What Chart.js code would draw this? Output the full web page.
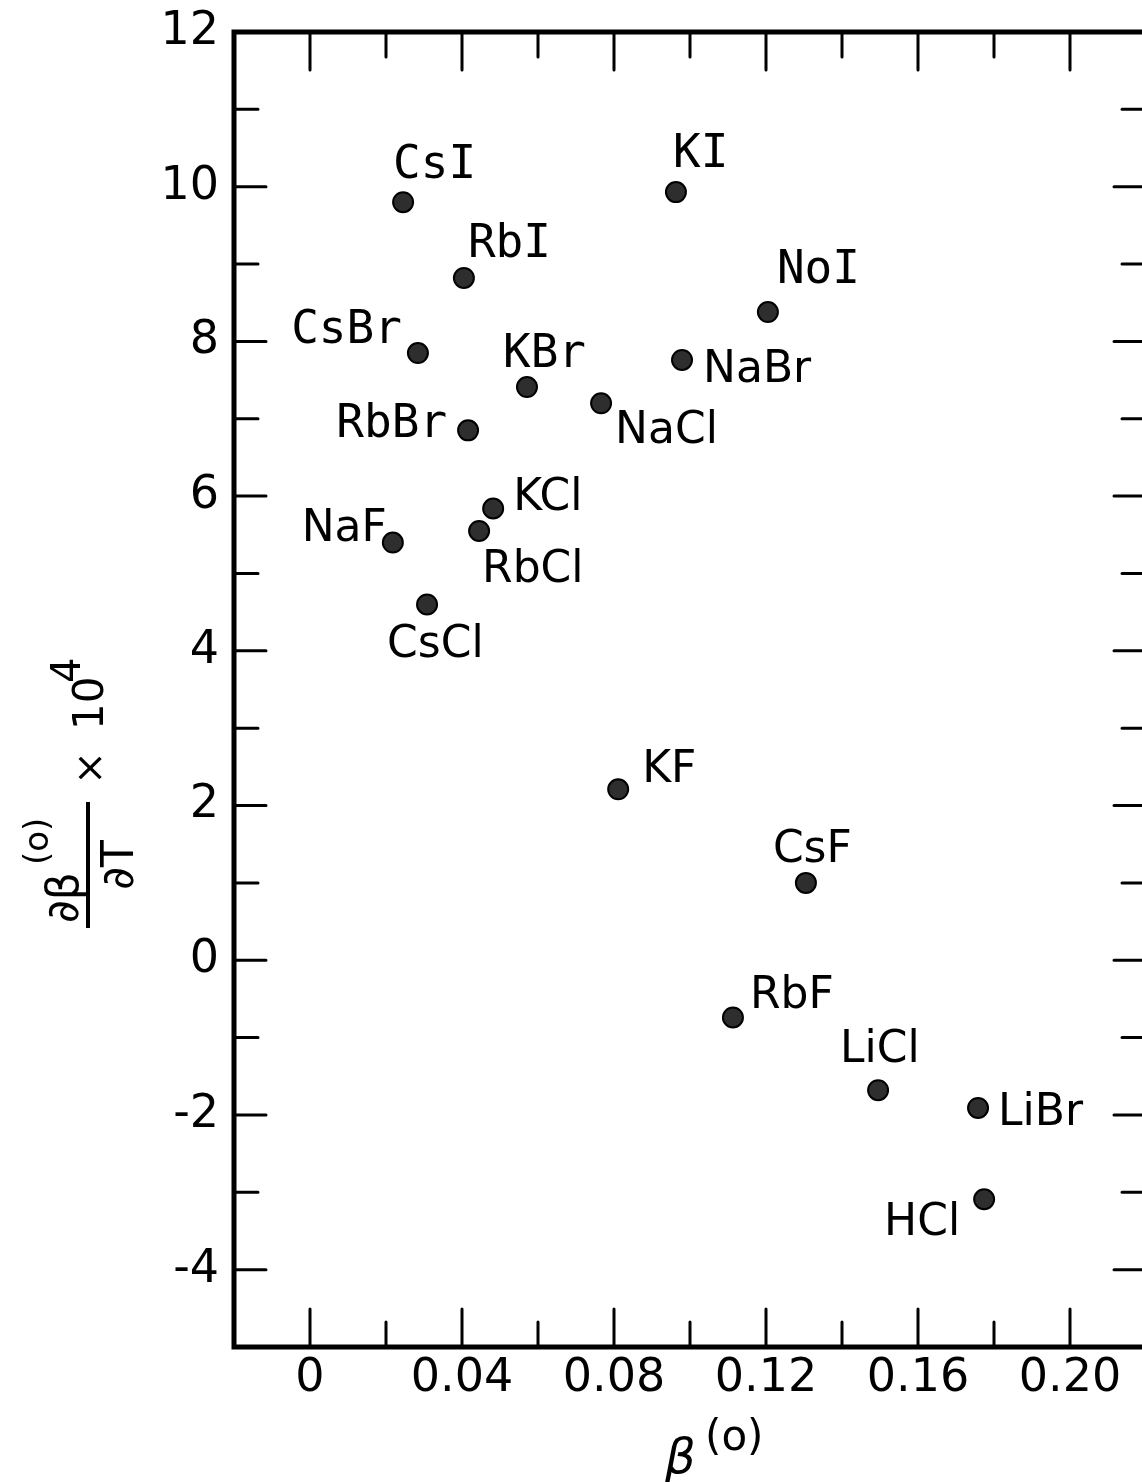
<!DOCTYPE html>
<html lang="en">
<head>
<meta charset="UTF-8">
<title>dβ/dT vs β</title>
<script src="https://cdn.jsdelivr.net/npm/chart.js"></script>
<style>
  html, body { margin: 0; padding: 0; background: #fff; overflow: hidden; }
  canvas { display: block; }
</style>
</head>
<body>
<canvas id="chart" width="1160" height="1482"></canvas>
<script>
// data
const salts   = ['CsI', 'KI', 'RbI', 'NoI', 'CsBr', 'KBr', 'NaBr', 'NaCl', 'RbBr', 'KCl',
                 'RbCl', 'NaF', 'CsCl', 'KF', 'CsF', 'RbF', 'LiCl', 'LiBr', 'HCl'];
const beta0   = [0.0245, 0.0963, 0.0405, 0.1205, 0.0284, 0.0571, 0.0979, 0.0766, 0.0416, 0.0482,
                 0.0445, 0.0218, 0.0308, 0.0811, 0.1305, 0.1113, 0.1495, 0.1758, 0.1774];
const dBetadT = [9.80, 9.93, 8.82, 8.38, 7.85, 7.41, 7.76, 7.20, 6.85, 5.84,
                 5.55, 5.40, 4.60, 2.21, 1.00, -0.74, -1.68, -1.91, -3.09];

const xTickLabels = ['0', '0.04', '0.08', '0.12', '0.16', '0.20'];
const yTickLabels = ['12', '10', '8', '6', '4', '2', '0', '-2', '-4'];

// where each name sits next to its dot: [dx, dy, align, font]
const labelPlace = [
  [-10, -24, 'left', 'mono'], [-3, -25, 'left', 'mono'], [4, -21, 'left', 'mono'],
  [9, -29, 'left', 'mono'], [-16, -10, 'right', 'mono'], [-24, -20, 'left', 'mono'],
  [21, 22, 'left', 'sans'], [14, 40, 'left', 'sans'], [-21, 7, 'right', 'mono'],
  [20, 2, 'left', 'sans'], [3, 51, 'left', 'sans'], [-6, -2, 'right', 'sans'],
  [-40, 53, 'left', 'sans'], [24, -7, 'left', 'sans'], [-33, -21, 'left', 'sans'],
  [17, -9, 'left', 'sans'], [-38, -28, 'left', 'sans'], [20, 17, 'left', 'sans'],
  [-24, 36, 'right', 'sans']
];

const SANS = "'DejaVu Sans', sans-serif";
const MONO = "'DejaVu Sans Mono', monospace";

function xLabel(v) {
  const s = Math.abs(v) < 1e-9 ? '0' : v.toFixed(2);
  return xTickLabels.includes(s) ? s : '';
}
function yLabel(v) {
  const s = String(Math.round(v));
  return yTickLabels.includes(s) ? s : '';
}

// frame + inward ticks on all four sides, names, axis titles
const frameTicks = {
  id: 'frameTicks',
  afterDatasetsDraw(chart) {
    const { ctx, chartArea: a, scales: { x, y } } = chart;
    ctx.save();
    ctx.strokeStyle = '#000';
    ctx.lineCap = 'round';
    ctx.lineWidth = 3;
    x.ticks.forEach(t => {
      if (t.value <= x.min + 1e-6 || t.value >= x.max - 1e-6) return;
      const px = x.getPixelForValue(t.value);
      const len = xLabel(t.value) ? 38 : 25;
      ctx.beginPath();
      ctx.moveTo(px, a.bottom); ctx.lineTo(px, a.bottom - len);
      ctx.moveTo(px, a.top); ctx.lineTo(px, a.top + len);
      ctx.stroke();
    });
    y.ticks.forEach(t => {
      if (t.value <= y.min + 1e-6 || t.value >= y.max - 1e-6) return;
      const py = y.getPixelForValue(t.value);
      const len = yLabel(t.value) ? 32 : 24;
      ctx.beginPath();
      ctx.moveTo(a.left, py); ctx.lineTo(a.left + len, py);
      ctx.moveTo(a.right, py); ctx.lineTo(a.right - len, py);
      ctx.stroke();
    });
    ctx.lineWidth = 5;
    ctx.lineCap = 'butt';
    ctx.strokeRect(a.left, a.top, a.right - a.left, a.bottom - a.top);

    // point names
    const meta = chart.getDatasetMeta(0);
    ctx.fillStyle = '#000';
    ctx.textBaseline = 'alphabetic';
    meta.data.forEach((el, i) => {
      const [dx, dy, align, f] = labelPlace[i];
      ctx.font = f === 'mono' ? '46px ' + MONO : '44px ' + SANS;
      ctx.textAlign = align;
      ctx.fillText(salts[i], el.x + dx, el.y + dy);
    });

    // x title: β^(o)
    const cx = (a.left + a.right) / 2;
    ctx.textAlign = 'left';
    ctx.font = 'italic 48px ' + SANS;
    ctx.fillText('β', cx - 25, 1473);
    ctx.font = '42px ' + SANS;
    ctx.fillText('(o)', cx + 15, 1450);

    // y title: ∂β^(o)/∂T × 10^4, rotated
    ctx.translate(a.left - 146, 865);
    ctx.rotate(-Math.PI / 2);
    ctx.lineWidth = 4;
    ctx.beginPath();
    ctx.moveTo(-63, 0); ctx.lineTo(63, 0);
    ctx.stroke();
    ctx.font = '44px ' + SANS;
    ctx.fillText('∂β', -58, -10);
    ctx.font = '34px ' + SANS;
    ctx.fillText('(o)', 0, -40);
    ctx.font = '44px ' + SANS;
    ctx.textAlign = 'center';
    ctx.fillText('∂T', 0, 45);
    ctx.font = '40px ' + SANS;
    ctx.fillText('×', 97, 15);
    ctx.textAlign = 'left';
    ctx.font = '42px ' + SANS;
    ctx.fillText('10', 135, 15);
    ctx.font = '40px ' + SANS;
    ctx.fillText('4', 182, -8);
    ctx.restore();
  }
};

new Chart(document.getElementById('chart'), {
  type: 'scatter',
  data: {
    datasets: [{
      label: 'dβ/dT',
      data: beta0.map((b, i) => ({ x: b, y: dBetadT[i] })),
      pointRadius: 10,
      pointHoverRadius: 10,
      pointBackgroundColor: '#2e2e2e',
      pointBorderColor: '#000',
      pointBorderWidth: 2
    }]
  },
  options: {
    responsive: false,
    animation: false,
    events: [],
    layout: { padding: { top: 32, right: 14, left: 0, bottom: 0 } },
    plugins: { legend: { display: false }, tooltip: { enabled: false } },
    scales: {
      x: {
        type: 'linear',
        min: -0.02,
        max: 0.22,
        grid: { display: false, drawTicks: false },
        border: { display: false },
        afterFit(scale) {
          scale.height = 135;
          scale.paddingLeft = 0;
          scale.paddingRight = 0;
        },
        ticks: {
          stepSize: 0.02,
          autoSkip: false,
          maxRotation: 0,
          padding: 4,
          color: '#000',
          font: { family: SANS, size: 46 },
          callback: v => xLabel(v)
        }
      },
      y: {
        type: 'linear',
        min: -5,
        max: 12,
        grid: { display: false, drawTicks: false },
        border: { display: false },
        afterFit(scale) {
          scale.width = 234;
          scale.paddingTop = 0;
          scale.paddingBottom = 0;
        },
        ticks: {
          stepSize: 1,
          autoSkip: false,
          padding: 15,
          color: '#000',
          font: { family: SANS, size: 46 },
          callback: v => yLabel(v)
        }
      }
    }
  },
  plugins: [frameTicks]
});
</script>
</body>
</html>
